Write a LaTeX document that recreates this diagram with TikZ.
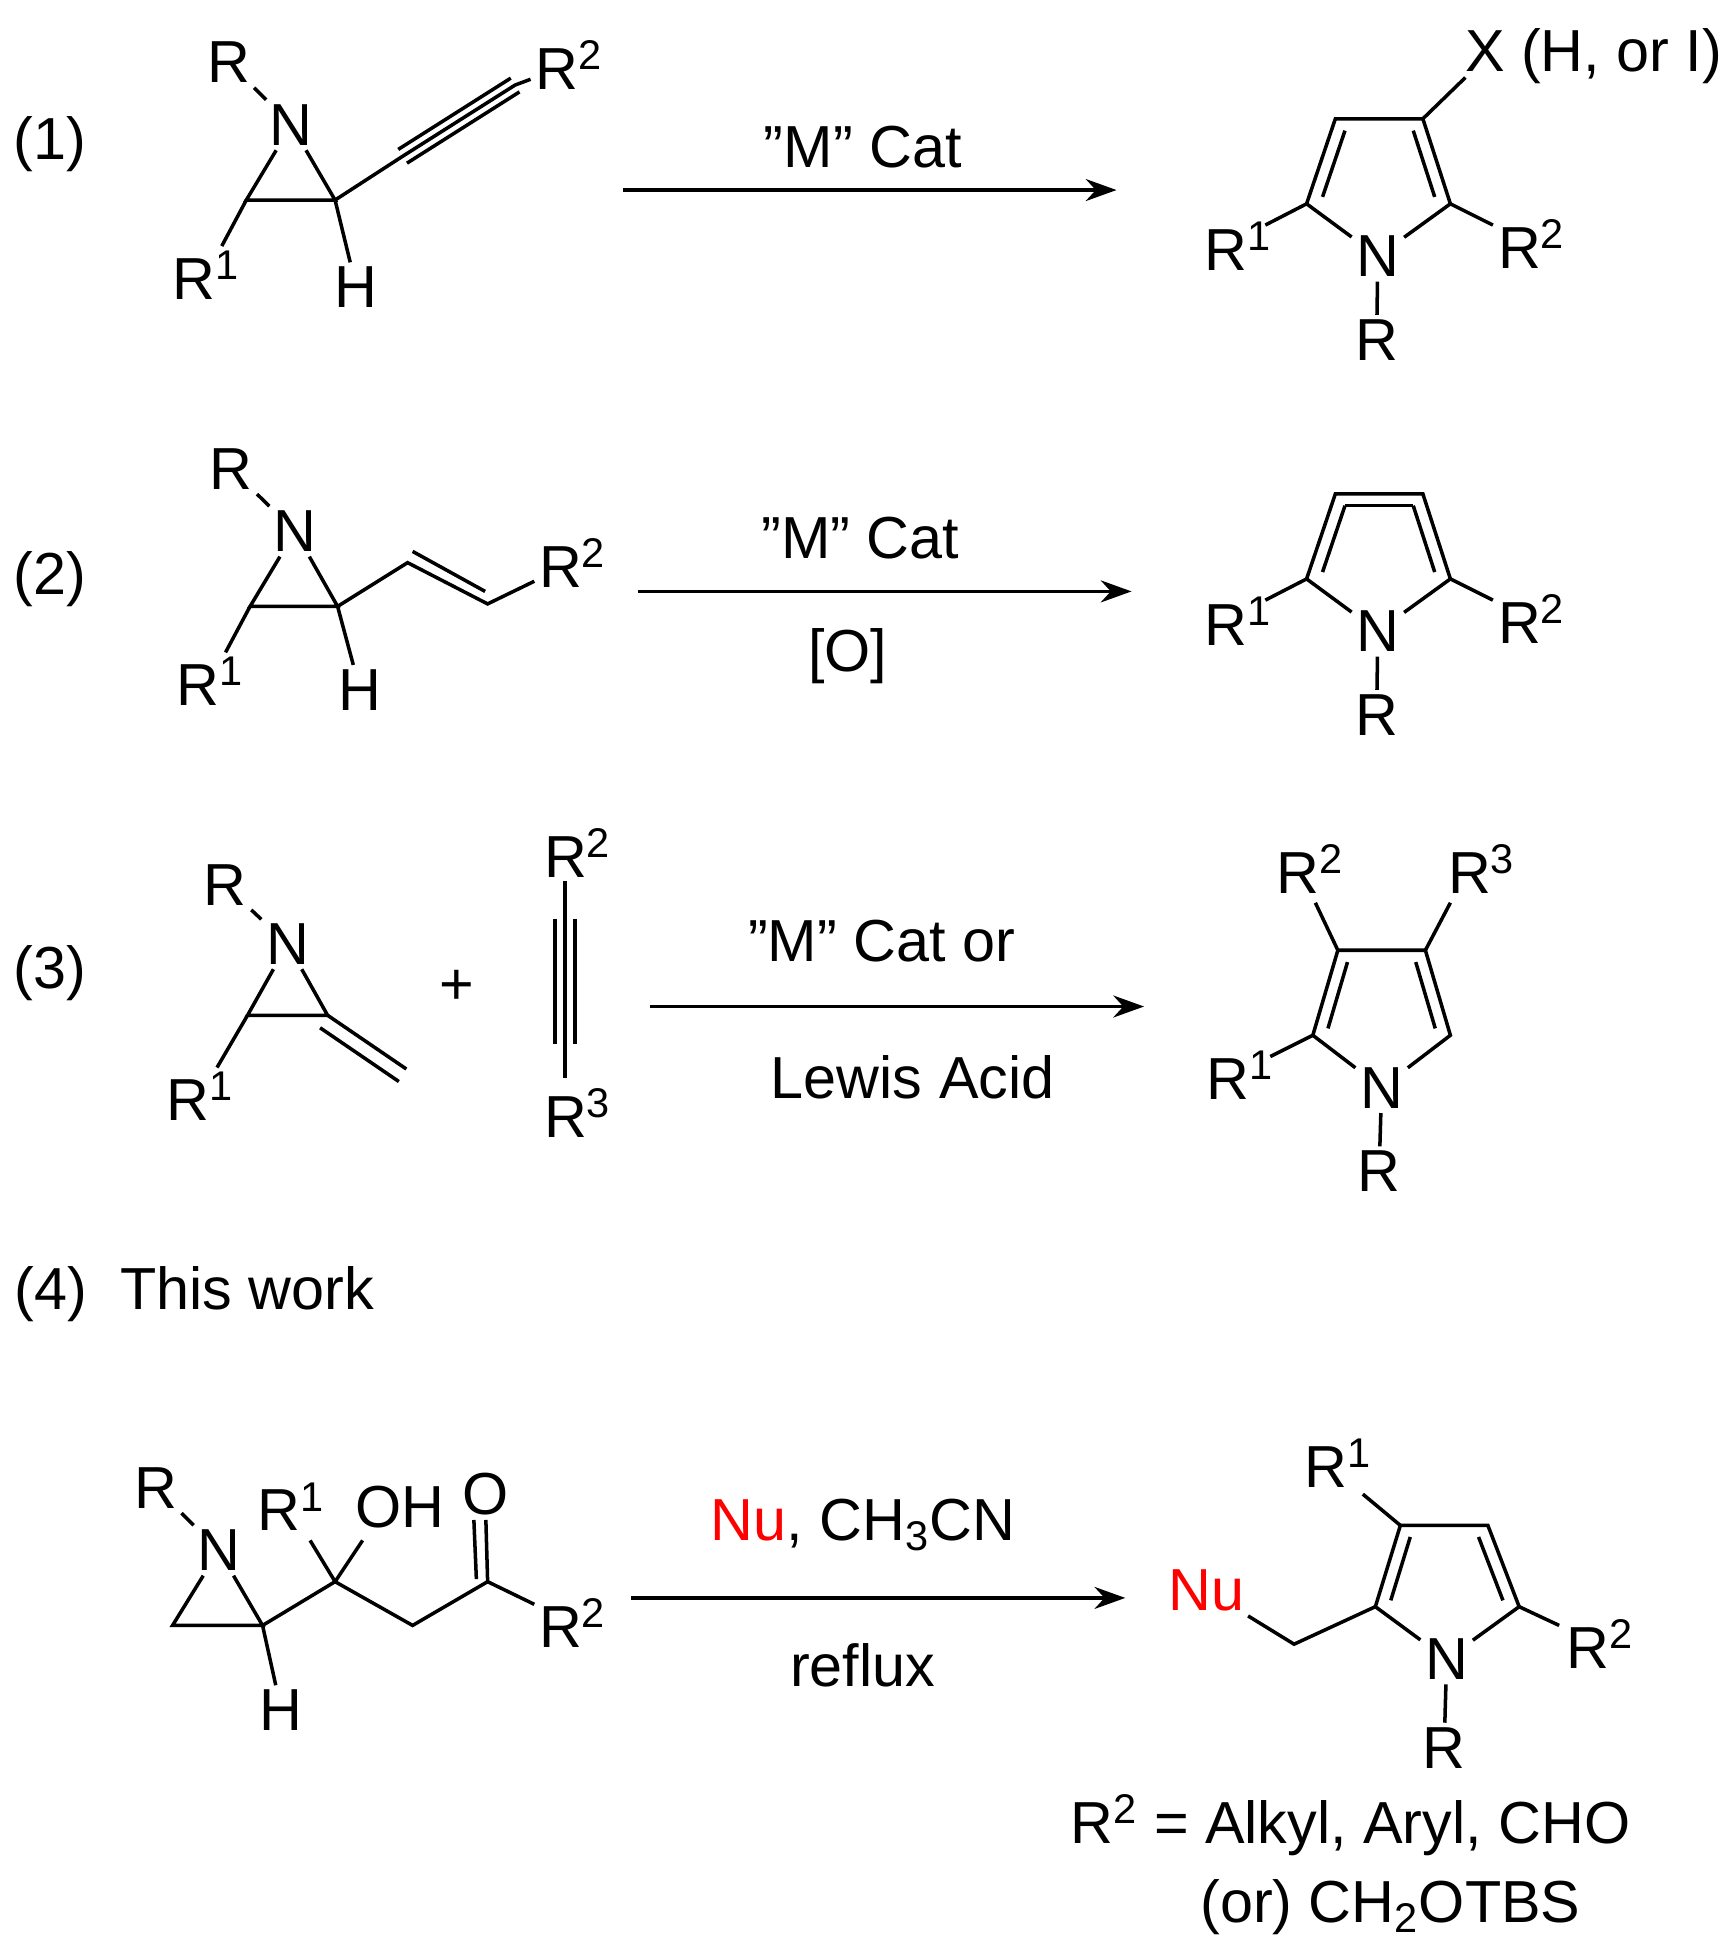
\documentclass[tikz,border=0pt]{standalone}
\usepackage{fontspec}
\setmainfont{Liberation Sans}
\usetikzlibrary{calc,arrows.meta}
\newcommand\Rs[1]{R\textsuperscript{#1}}
\newcommand\Hsub[1]{\textsubscript{#1}}
\begin{document}
\begin{tikzpicture}[x=0.02cm,y=-0.02cm,
  every node/.style={font=\fontsize{27}{30}\selectfont,inner sep=2pt},
  bond/.style={line width=1.6pt},
  rxn/.style={line width=1.6pt,-{Stealth[length=14pt,width=10pt]}}]
\useasboundingbox (0,0) rectangle (1384,1562);
\newcommand\dbin[3]{\draw[bond] ($(#1)!0.22!(#3)$) -- ($(#2)!0.22!(#3)$);}
% ---------- (1)
\node (l1) at (40,115) {(1)};
\node (r1R) at (183,50) {R};
\node (r1N) at (233,100) {N};
\coordinate (r1a) at (197,160); \coordinate (r1b) at (268,160);
\node (r1R1) at (165,220) {\Rs1};
\node (r1H) at (285,230) {H};
\node (r1R2) at (455,52) {\Rs2};
\coordinate (r1t1) at (322,125); \coordinate (r1t2) at (412,68);
\draw[bond] (r1R) -- (r1N);
\draw[bond] (r1N) -- (r1a) -- (r1b) -- (r1N);
\draw[bond] (r1a) -- (r1R1);
\draw[bond] (r1b) -- (r1H);
\draw[bond] (r1b) -- (r1t1) -- (r1t2) -- (r1R2);
\draw[bond] ($(r1t1)+(3.5,5.5)$) -- ($(r1t2)+(3.5,5.5)$);
\draw[bond] ($(r1t1)+(-3.5,-5.5)$) -- ($(r1t2)+(-3.5,-5.5)$);
\node (a1s) at (498,152) {}; \node (a1e) at (893,152) {};
\draw[rxn] (498,152) coordinate (a1s') -- (893,152) coordinate (a1e');
\node at (690,118) {"M" Cat};
% product 1
\node (p1N) at (1102,205) {N};
\coordinate (p1c2) at (1045,163); \coordinate (p1c3) at (1068,95);
\coordinate (p1c4) at (1138,95); \coordinate (p1c5) at (1160,163);
\coordinate (p1m) at (1103,138);
\draw[bond] (p1N) -- (p1c2) -- (p1c3) -- (p1c4) -- (p1c5) -- (p1N);
\dbin{p1c2}{p1c3}{p1m} \dbin{p1c4}{p1c5}{p1m}
\node (p1R1) at (990,197) {\Rs1};
\node (p1R2) at (1225,195) {\Rs2};
\node (p1R) at (1101,272) {R};
\node[anchor=west] (p1X) at (1168,45) {X (H, or I)};
\draw[bond] (p1c2) -- (1012,180);
\draw[bond] (p1c5) -- (1194,180);
\draw[bond] (p1N) -- (p1R);
\draw[bond] (p1c4) -- (1172,62);
% ---------- (2)
\node (l2) at (40,463) {(2)};
\node (r2R) at (185,375) {R};
\node (r2N) at (236,425) {N};
\coordinate (r2a) at (200,485); \coordinate (r2b) at (270,485);
\node (r2R1) at (168,545) {\Rs1};
\node (r2H) at (288,552) {H};
\node (r2R2) at (458,450) {\Rs2};
\coordinate (r2d1) at (326,450); \coordinate (r2d2) at (390,483);
\draw[bond] (r2R) -- (r2N);
\draw[bond] (r2N) -- (r2a) -- (r2b) -- (r2N);
\draw[bond] (r2a) -- (r2R1);
\draw[bond] (r2b) -- (r2H);
\draw[bond] (r2b) -- (r2d1) -- (r2d2) -- (r2R2);
\draw[bond] ($(r2d1)+(4,-9)$) -- ($(r2d2)+(-2,-10)$);
\draw[rxn] (510,473) -- (905,473);
\node at (688,430) {"M" Cat};
\node at (678,525) {[O]};
\node (p2N) at (1102,505) {N};
\coordinate (p2c2) at (1045,463); \coordinate (p2c3) at (1068,395);
\coordinate (p2c4) at (1138,395); \coordinate (p2c5) at (1160,463);
\coordinate (p2m) at (1103,438);
\draw[bond] (p2N) -- (p2c2) -- (p2c3) -- (p2c4) -- (p2c5) -- (p2N);
\dbin{p2c2}{p2c3}{p2m} \dbin{p2c4}{p2c5}{p2m}
\dbin{p2c3}{p2c4}{p2m}
\node (p2R1) at (990,497) {\Rs1};
\node (p2R2) at (1225,495) {\Rs2};
\node (p2R) at (1101,572) {R};
\draw[bond] (p2c2) -- (1012,480);
\draw[bond] (p2c5) -- (1194,480);
\draw[bond] (p2N) -- (p2R);
% ---------- (3)
\node (l3) at (40,778) {(3)};
\node (r3R) at (180,708) {R};
\node (r3N) at (230,755) {N};
\coordinate (r3a) at (198,812); \coordinate (r3b) at (262,812);
\coordinate (r3e) at (325,855);
\node (r3R1) at (160,877) {\Rs1};
\draw[bond] (r3R) -- (r3N);
\draw[bond] (r3N) -- (r3a) -- (r3b) -- (r3N);
\draw[bond] (r3a) -- (r3R1);
\draw[bond] (r3b) -- (r3e);
\draw[bond] ($(r3b)+(-6,10)$) -- ($(r3e)+(-6,10)$);
\node (plus) at (365,790) {+};
\node (r3R2) at (462,682) {\Rs2};
\node (r3R3) at (462,890) {\Rs3};
\coordinate (r3t1) at (452,735); \coordinate (r3t2) at (452,835);
\draw[bond] (452,705) -- (452,862);
\draw[bond] (444,735) -- (444,835);
\draw[bond] (460,735) -- (460,835);
\draw[rxn] (520,805) -- (915,805);
\node at (705,753) {"M" Cat or};
\node at (730,862) {Lewis Acid};
\node (p3N) at (1105,870) {N};
\coordinate (p3c2) at (1050,828); \coordinate (p3c3) at (1070,760);
\coordinate (p3c4) at (1140,760); \coordinate (p3c5) at (1160,828);
\coordinate (p3m) at (1105,803);
\draw[bond] (p3N) -- (p3c2) -- (p3c3) -- (p3c4) -- (p3c5) -- (p3N);
\dbin{p3c2}{p3c3}{p3m} \dbin{p3c4}{p3c5}{p3m}
\node (p3R1) at (992,860) {\Rs1};
\node (p3R2) at (1048,695) {\Rs2};
\node (p3R3) at (1185,695) {\Rs3};
\node (p3R) at (1103,937) {R};
\draw[bond] (p3c2) -- (1016,845);
\draw[bond] (p3c3) -- (1052,722);
\draw[bond] (p3c4) -- (1160,722);
\draw[bond] (p3N) -- (p3R);
% ---------- (4)
\node[anchor=west] (l4) at (8,1035) {(4)\ \ This work};
\node (r4R) at (125,1190) {R};
\node (r4N) at (175,1240) {N};
\coordinate (r4a) at (138,1300); \coordinate (r4b) at (210,1300);
\coordinate (r4c) at (268,1265); \coordinate (r4d) at (330,1300);
\coordinate (r4e) at (390,1265);
\node (r4H) at (225,1368) {H};
\node (r4R1) at (233,1205) {\Rs1};
\node (r4OH) at (320,1205) {OH};
\node (r4O) at (388,1195) {O};
\node (r4R2) at (458,1298) {\Rs2};
\draw[bond] (r4R) -- (r4N);
\draw[bond] (r4N) -- (r4a) -- (r4b) -- (r4N);
\draw[bond] (r4b) -- (r4H);
\draw[bond] (r4b) -- (r4c) -- (r4d) -- (r4e) -- (r4R2);
\draw[bond] (r4c) -- (248,1232);
\draw[bond] (r4c) -- (290,1232);
\draw[bond] (r4e) -- (r4O);
\draw[bond] ($(r4e)+(-9,-2)$) -- ($(r4O.south)+(-9,0)$);
\draw[rxn] (505,1278) -- (900,1278);
\node at (690,1220) {\textcolor{red}{Nu}, CH\Hsub3CN};
\node at (690,1332) {reflux};
\node (p4Nu) at (965,1272) {\textcolor{red}{Nu}};
\coordinate (p4ch) at (1035,1315);
\node (p4N) at (1157,1327) {N};
\coordinate (p4c2) at (1100,1285); \coordinate (p4c3) at (1120,1220);
\coordinate (p4c4) at (1190,1220); \coordinate (p4c5) at (1215,1285);
\coordinate (p4m) at (1156,1262);
\draw[bond] (p4N) -- (p4c2) -- (p4c3) -- (p4c4) -- (p4c5) -- (p4N);
\dbin{p4c2}{p4c3}{p4m} \dbin{p4c4}{p4c5}{p4m}
\draw[bond] (p4Nu) -- (p4ch) -- (p4c2);
\node (p4R1) at (1070,1170) {\Rs1};
\node (p4R2) at (1280,1315) {\Rs2};
\node (p4R) at (1155,1398) {R};
\draw[bond] (p4c3) -- (1090,1195);
\draw[bond] (p4c5) -- (1247,1300);
\draw[bond] (p4N) -- (p4R);
\node (t1) at (1080,1460) {\Rs2 = Alkyl, Aryl, CHO};
\node (t2) at (1112,1525) {(or) CH\Hsub2OTBS};
\end{tikzpicture}
\end{document}
